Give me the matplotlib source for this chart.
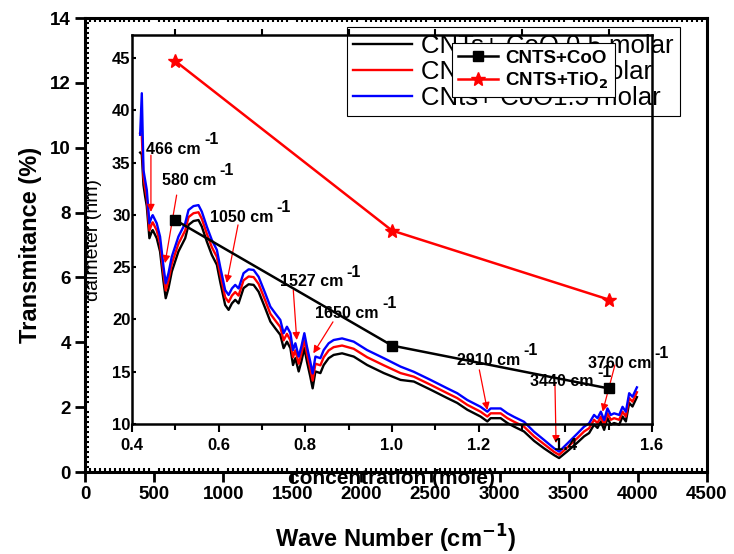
import matplotlib
matplotlib.use("Agg")
import matplotlib.pyplot as plt
from matplotlib.ticker import MultipleLocator, AutoMinorLocator

plt.rcParams['font.family'] = ['Liberation Sans', 'DejaVu Sans']

# FTIR spectra (outer axes)
wave_number = [399, 411, 423, 435, 447, 466, 483, 490, 519, 543, 568, 584, 604, 628,
               676, 725, 749, 785, 821, 845, 882, 918, 954, 978, 1014, 1039, 1063,
               1087, 1111, 1147, 1184, 1220, 1256, 1304, 1341, 1377, 1413, 1437, 1461,
               1486, 1505, 1522, 1546, 1565, 1587, 1606, 1630, 1647, 1667, 1703, 1727,
               1763, 1799, 1860, 1944, 2041, 2162, 2283, 2379, 2500, 2621, 2693, 2766,
               2862, 2911, 2935, 3007, 3056, 3104, 3176, 3249, 3321, 3394, 3430, 3490,
               3563, 3611, 3647, 3683, 3708, 3732, 3756, 3780, 3804, 3828, 3865, 3889,
               3913, 3937, 3961, 3993]
trans_15 = [10.40, 11.68, 9.31, 9.00, 8.70, 7.67, 7.87, 7.92, 7.67, 7.26, 6.33, 5.82, 6.13, 6.64,
            7.26, 7.67, 8.08, 8.20, 8.23, 8.03, 7.56, 7.15, 6.85, 6.33, 5.61, 5.46, 5.66,
            5.77, 5.66, 6.13, 6.25, 6.23, 6.02, 5.51, 5.10, 4.89, 4.69, 4.28, 4.48,
            4.28, 3.76, 3.97, 3.56, 3.86, 4.28, 3.86, 3.40, 3.04, 3.56, 3.51, 3.76,
            3.97, 4.07, 4.12, 4.02, 3.76, 3.51, 3.25, 3.09, 2.84, 2.58, 2.43, 2.22,
            2.01, 1.86, 1.96, 1.96, 1.81, 1.70, 1.55, 1.24, 0.99, 0.73, 0.63, 0.88,
            1.19, 1.40, 1.50, 1.76, 1.66, 1.86, 1.60, 1.96, 1.76, 1.81, 1.76, 2.01,
            1.86, 2.43, 2.32, 2.61]
trans_1 = [10.45, 10.40, 9.10, 8.75, 8.45, 7.45, 7.65, 7.70, 7.45, 7.04, 6.11, 5.60, 5.91, 6.42,
           7.04, 7.45, 7.86, 7.98, 8.01, 7.81, 7.34, 6.93, 6.63, 6.11, 5.39, 5.24, 5.44,
           5.55, 5.44, 5.91, 6.03, 6.01, 5.80, 5.29, 4.88, 4.67, 4.47, 4.06, 4.26,
           4.06, 3.54, 3.75, 3.34, 3.64, 4.06, 3.64, 3.18, 2.82, 3.34, 3.29, 3.54,
           3.75, 3.85, 3.90, 3.80, 3.54, 3.29, 3.05, 2.94, 2.69, 2.43, 2.28, 2.07,
           1.86, 1.71, 1.81, 1.81, 1.66, 1.55, 1.40, 1.10, 0.86, 0.62, 0.53, 0.76,
           1.05, 1.25, 1.35, 1.61, 1.51, 1.71, 1.45, 1.81, 1.61, 1.66, 1.61, 1.86,
           1.71, 2.28, 2.17, 2.46]
trans_05 = [9.85, 9.80, 8.85, 8.50, 8.20, 7.21, 7.41, 7.46, 7.21, 6.80, 5.87, 5.36, 5.67, 6.18,
            6.80, 7.21, 7.62, 7.74, 7.77, 7.57, 7.10, 6.69, 6.39, 5.87, 5.15, 5.00, 5.20,
            5.31, 5.20, 5.67, 5.79, 5.77, 5.56, 5.05, 4.64, 4.43, 4.23, 3.82, 4.02,
            3.82, 3.30, 3.51, 3.10, 3.40, 3.82, 3.40, 2.94, 2.58, 3.10, 3.05, 3.30,
            3.51, 3.61, 3.66, 3.56, 3.30, 3.05, 2.84, 2.79, 2.54, 2.28, 2.13, 1.92,
            1.71, 1.56, 1.66, 1.66, 1.51, 1.40, 1.25, 0.96, 0.73, 0.52, 0.43, 0.64,
            0.91, 1.10, 1.20, 1.46, 1.36, 1.56, 1.30, 1.66, 1.46, 1.51, 1.46, 1.71,
            1.56, 2.13, 2.02, 2.31]

# peak labels: text position, arrow tail, arrow head (wave number, transmittance)
peak_labels = ['466', '580', '1050', '1527', '1650', '2910', '3440', '3760']
label_x = [441, 557, 904, 1411, 1664, 2691, 3220, 3639]
label_y = [9.96, 9.00, 7.86, 5.86, 4.90, 3.45, 2.78, 3.36]
tail_x = [477, 663, 1107, 1507, 1794, 2853, 3400, 3834]
tail_y = [9.77, 8.54, 7.62, 5.61, 4.63, 3.15, 2.74, 3.30]
head_x = [477, 579, 1025, 1532, 1652, 2911, 3408, 3745]
head_y = [8.02, 6.44, 5.83, 4.07, 3.66, 1.91, 0.89, 1.86]

# inset: diameter vs concentration
concentration = [0.5, 1.0, 1.5]
diam_coo = [29.5, 17.5, 13.4]
diam_tio2 = [44.7, 28.5, 21.9]

fig = plt.figure(figsize=(7.34, 5.54), dpi=100)
ax = fig.add_axes([0.1158, 0.148, 0.8474, 0.8195])

ax.plot(wave_number, trans_05, color='black', lw=1.7, label='CNTs+ CoO 0.5 molar')
ax.plot(wave_number, trans_1, color='red', lw=1.7, label='CNTs+ CoO 1 molar')
ax.plot(wave_number, trans_15, color='blue', lw=1.7, label='CNts+ CoO1.5 molar')

for i, lab in enumerate(peak_labels):
    ax.annotate('', xy=(head_x[i], head_y[i]), xytext=(tail_x[i], tail_y[i]),
                arrowprops=dict(arrowstyle='-|>', color='red', lw=0.9, mutation_scale=11,
                                shrinkA=0, shrinkB=0), zorder=4)
    t = ax.text(label_x[i], label_y[i], lab + ' cm', fontsize=11.5, fontweight='bold',
                ha='left', va='center', zorder=4)
    ax.annotate('-1', xy=(1, 1), xycoords=t, xytext=(2.5, -4), textcoords='offset points',
                fontsize=11.5, fontweight='bold', ha='left', va='bottom', zorder=4)

ax.set_xlim(0, 4500)
ax.set_ylim(0, 14)
ax.xaxis.set_major_locator(MultipleLocator(500))
ax.yaxis.set_major_locator(MultipleLocator(2))
ax.xaxis.set_minor_locator(AutoMinorLocator(14))
ax.yaxis.set_minor_locator(AutoMinorLocator(13))
ax.tick_params(which='major', direction='out', length=7, width=2, labelsize=13.5, pad=3)
ax.tick_params(which='minor', direction='in', length=3, width=1.5, top=True)
for lab in ax.get_xticklabels() + ax.get_yticklabels():
    lab.set_fontweight('bold')
for s in ax.spines.values():
    s.set_linewidth(2.2)

ax.set_xlabel('Wave Number (cm$^{\\mathbf{-1}}$)', fontsize=17, fontweight='bold', labelpad=14)
ax.set_ylabel('Transmitance (%)', fontsize=17, fontweight='bold', labelpad=6)

leg = ax.legend(loc='upper left', bbox_to_anchor=(0.421, 0.980), fontsize=18.5,
                handlelength=2.3, handletextpad=0.35, borderpad=0.25, labelspacing=0.08,
                fancybox=False, edgecolor='black', framealpha=1, borderaxespad=0)
leg.get_frame().set_linewidth(0.8)

# inset labels sit under the outer spines
ax.text(93 / 734, 1 - 240 / 554, 'daimeter (nm)', transform=fig.transFigure, rotation=90,
        fontsize=14, ha='center', va='center', zorder=1, clip_on=False)
ax.text(392 / 734, 1 - 478 / 554, 'concentration (mole)', transform=fig.transFigure,
        fontsize=15, fontweight='bold', ha='center', va='center', zorder=1, clip_on=False)

ins = fig.add_axes([0.1798, 0.2347, 0.7084, 0.7022])
ins.patch.set_alpha(0)
ins.plot(concentration, diam_coo, color='black', lw=1.8, marker='s', markersize=7,
         label='CNTS+CoO')
ins.plot(concentration, diam_tio2, color='red', lw=1.8, marker='*', markersize=10,
         label='CNTS+TiO$_\\mathbf{2}$')
ins.set_xlim(0.4, 1.6)
ins.set_ylim(10, 47.2)
ins.xaxis.set_major_locator(MultipleLocator(0.2))
ins.xaxis.set_minor_locator(MultipleLocator(0.1))
ins.yaxis.set_major_locator(MultipleLocator(5))
ins.tick_params(axis='x', which='major', direction='out', length=6, width=1.5,
                labelsize=12, pad=4)
ins.tick_params(axis='x', which='minor', direction='out', length=4, width=1.5, top=True)
ins.tick_params(axis='y', which='major', direction='in', length=3, width=1.5,
                labelsize=12, pad=1)
for lab in ins.get_xticklabels() + ins.get_yticklabels():
    lab.set_fontweight('bold')
for s in ins.spines.values():
    s.set_linewidth(1.8)

leg2 = ins.legend(loc='upper left', bbox_to_anchor=(0.615, 0.979),
                  handlelength=2.1, handletextpad=0.4, borderpad=0.35, labelspacing=0.2,
                  fancybox=False, edgecolor='black', framealpha=1, borderaxespad=0,
                  prop={'weight': 'bold', 'size': 13.5})
leg2.get_frame().set_linewidth(0.8)

fig.savefig('out.png', dpi=100)
